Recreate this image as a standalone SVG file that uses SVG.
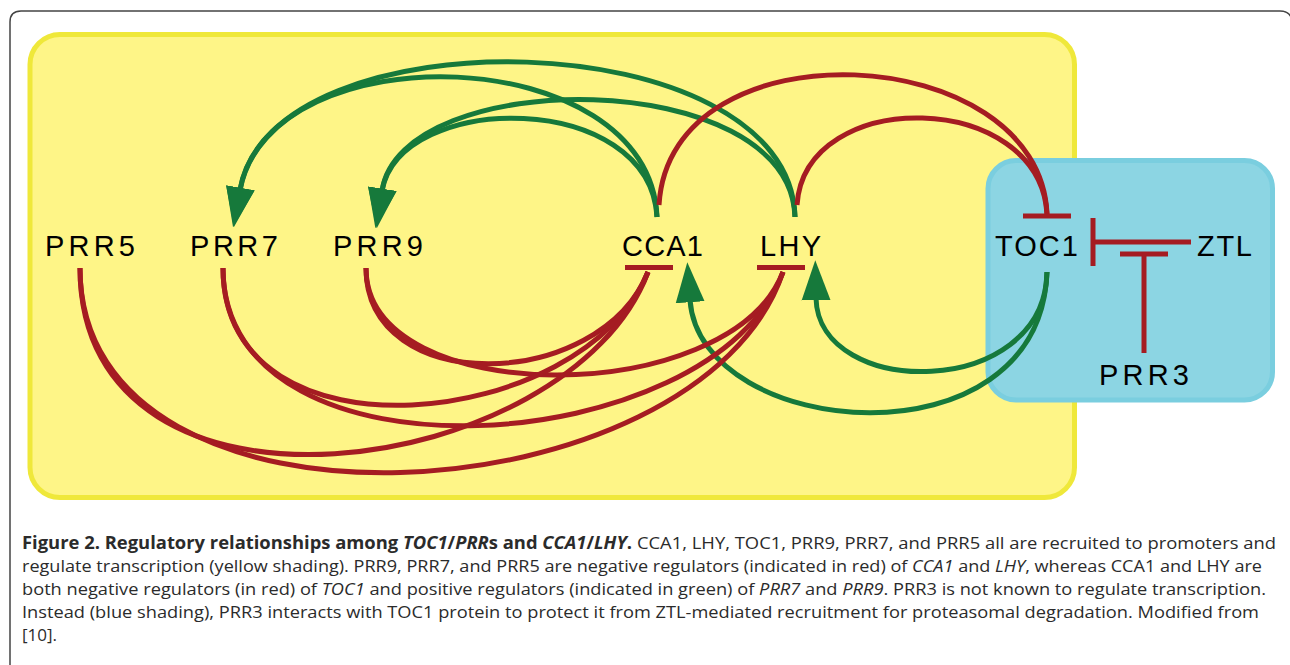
<svg xmlns="http://www.w3.org/2000/svg" width="1290" height="665" viewBox="0 0 1290 665">
<defs>
<style>
.g{fill:none;stroke:#16793B;stroke-width:5}
.r{fill:none;stroke:#A51C22;stroke-width:5}
.bar{stroke:#A51C22;stroke-width:5;fill:none}
.lbl{font-family:"Liberation Sans",Arial,sans-serif;font-size:29px;fill:#000}
.cap{font-family:"Open Sans","Noto Sans",sans-serif;font-size:17px;fill:#2b2b2b}
.b{font-weight:bold}
.i{font-style:italic}
</style>
<marker id="ah" markerUnits="userSpaceOnUse" markerWidth="40" markerHeight="30" viewBox="0 0 36 26" refX="2" refY="13" orient="auto">
<path d="M0,0 L36,13 L0,26 Z" fill="#16793B"/>
</marker>
</defs>
<rect width="1290" height="665" fill="#fff"/>
<path d="M10,665 V22 Q10,11 21,11 H1280 Q1290,11 1292,20" fill="none" stroke="#444" stroke-width="1.5"/>
<g id="transcription">
<rect x="30" y="34.5" width="1044.5" height="463" rx="30" fill="#FEF587" stroke="#EFE83A" stroke-width="5"/>
</g>
<g id="protein">
<rect x="988" y="160.5" width="284.5" height="239.5" rx="28" fill="#8CD5E3" stroke="#7ACEDF" stroke-width="5"/>
</g>
<g id="connectors">
<!-- green: CCA1/LHY activate PRR7/PRR9 -->
<path class="g" d="M795,217 C790,20 270,10 240,190" marker-end="url(#ah)"/>
<path class="g" d="M657,217 C650,40 270,30 240,190" marker-end="url(#ah)"/>
<path class="g" d="M795,217 C790,65 400,65 382,191" marker-end="url(#ah)"/>
<path class="g" d="M657,217 C650,90 400,90 382,191" marker-end="url(#ah)"/>
<!-- red: CCA1/LHY repress TOC1 -->
<path class="r" d="M659,205 C670,20 1040,40 1047,214"/>
<path class="r" d="M797,205 C805,85 1040,90 1047,214"/>
<path class="bar" d="M1023,216 H1071"/>
<!-- green: TOC1 activates CCA1/LHY -->
<path class="g" d="M1047,272 C1045,400 818,400 816,298" marker-end="url(#ah)"/>
<path class="g" d="M1047,272 C1040,470 700,440 690,300" marker-end="url(#ah)"/>
<!-- red: PRRs repress CCA1/LHY -->
<path class="r" d="M366,268 C366,398 600,392 648,272"/>
<path class="r" d="M366,268 C366,410 730,410 783,272"/>
<path class="r" d="M223,268 C223,470 585,430 648,272"/>
<path class="r" d="M223,268 C223,495 715,460 783,272"/>
<path class="r" d="M80,268 C80,550 570,480 648,272"/>
<path class="r" d="M80,268 C80,560 700,520 783,272"/>
<path class="bar" d="M625,267.5 H673"/>
<path class="bar" d="M757,267.5 H805"/>
<!-- ZTL -| TOC1, PRR3 -| -->
<path class="bar" d="M1093,218 V266"/>
<path class="bar" d="M1093,242 H1191"/>
<path class="bar" d="M1120,254 H1168"/>
<path class="bar" d="M1144,254 V353"/>
</g>
<g id="PRR5"><text class="lbl" x="45" y="256" textLength="90" lengthAdjust="spacing">PRR5</text></g>
<g id="PRR7"><text class="lbl" x="190" y="256" textLength="88" lengthAdjust="spacing">PRR7</text></g>
<g id="PRR9"><text class="lbl" x="333" y="256" textLength="90" lengthAdjust="spacing">PRR9</text></g>
<g id="CCA1"><text class="lbl" x="622" y="256" textLength="81" lengthAdjust="spacing">CCA1</text></g>
<g id="LHY"><text class="lbl" x="760" y="256" textLength="61" lengthAdjust="spacing">LHY</text></g>
<g id="TOC1"><text class="lbl" x="995" y="256" textLength="83" lengthAdjust="spacing">TOC1</text></g>
<g id="ZTL"><text class="lbl" x="1197" y="256" textLength="55" lengthAdjust="spacing">ZTL</text></g>
<g id="PRR3"><text class="lbl" x="1099" y="385" textLength="90" lengthAdjust="spacing">PRR3</text></g>
<g id="caption">
<text class="cap" x="22" y="549" textLength="1254" lengthAdjust="spacingAndGlyphs"><tspan class="b">Figure 2. Regulatory relationships among </tspan><tspan class="b i">TOC1</tspan><tspan class="b">/</tspan><tspan class="b i">PRR</tspan><tspan class="b">s and </tspan><tspan class="b i">CCA1</tspan><tspan class="b">/</tspan><tspan class="b i">LHY</tspan><tspan class="b">.</tspan> CCA1, LHY, TOC1, PRR9, PRR7, and PRR5 all are recruited to promoters and</text>
<text class="cap" x="22" y="572" textLength="1240" lengthAdjust="spacingAndGlyphs">regulate transcription (yellow shading). PRR9, PRR7, and PRR5 are negative regulators (indicated in red) of <tspan class="i">CCA1</tspan> and <tspan class="i">LHY</tspan>, whereas CCA1 and LHY are</text>
<text class="cap" x="22" y="595" textLength="1244" lengthAdjust="spacingAndGlyphs">both negative regulators (in red) of <tspan class="i">TOC1</tspan> and positive regulators (indicated in green) of <tspan class="i">PRR7</tspan> and <tspan class="i">PRR9</tspan>. PRR3 is not known to regulate transcription.</text>
<text class="cap" x="22" y="618" textLength="1237" lengthAdjust="spacingAndGlyphs">Instead (blue shading), PRR3 interacts with TOC1 protein to protect it from ZTL-mediated recruitment for proteasomal degradation. Modified from</text>
<text class="cap" x="22" y="641">[10].</text>
</g>
</svg>
